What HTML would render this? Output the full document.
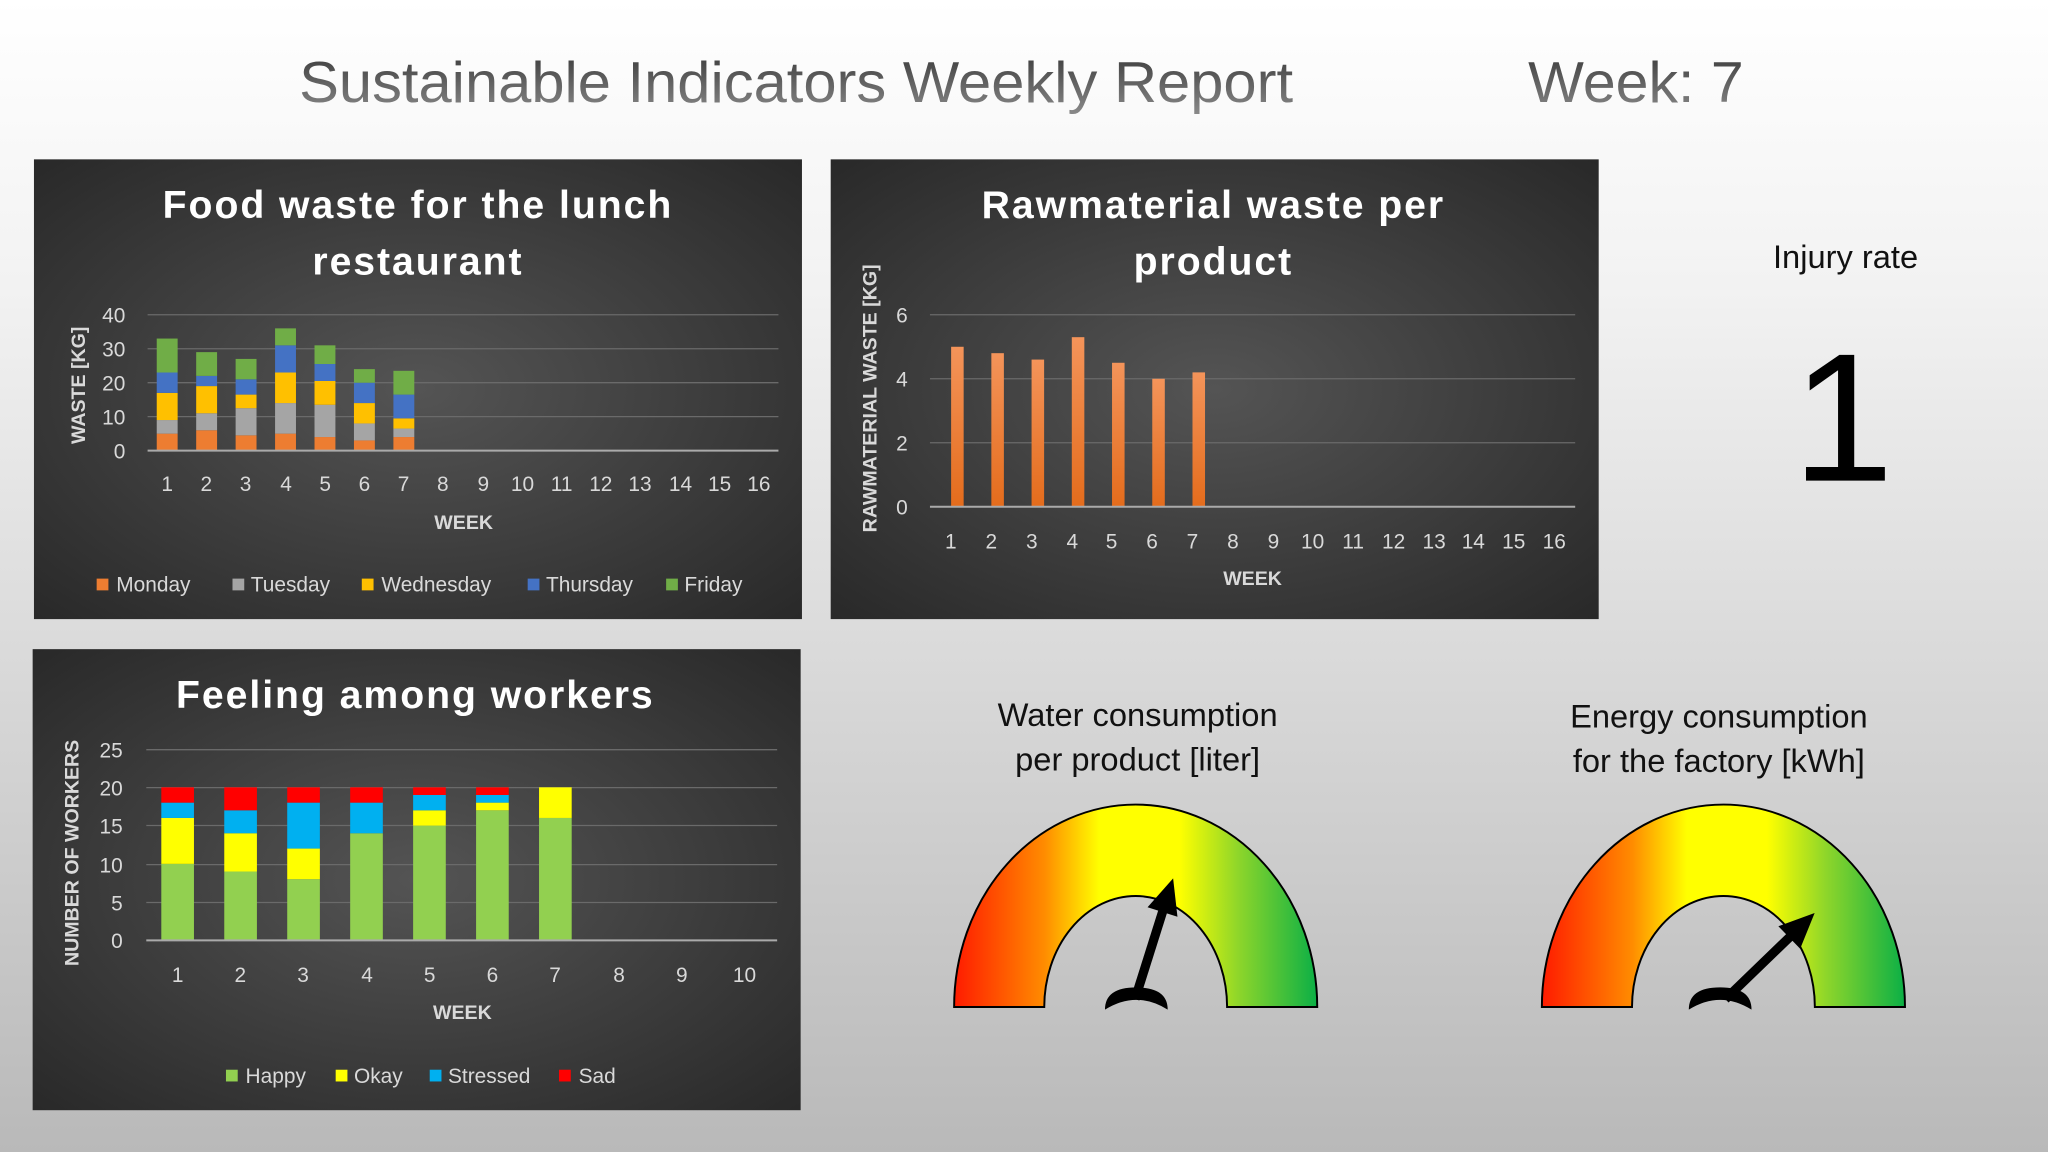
<!DOCTYPE html>
<html><head><meta charset="utf-8"><style>
html,body{margin:0;padding:0;width:2048px;height:1152px;overflow:hidden}
svg{display:block}
text{font-family:"Liberation Sans",sans-serif}
</style></head><body>
<svg id="s" width="2048" height="1152" viewBox="0 0 1568 882" xmlns="http://www.w3.org/2000/svg">
<defs>
<linearGradient id="bg" x1="0" y1="0" x2="0" y2="1"><stop offset="0" stop-color="#ffffff"/><stop offset="0.25" stop-color="#f2f2f2"/><stop offset="1" stop-color="#b9b9b9"/></linearGradient>
<radialGradient id="pn" cx="0.5" cy="0.5" r="0.75"><stop offset="0" stop-color="#545454"/><stop offset="1" stop-color="#262626"/></radialGradient>
<linearGradient id="tt" x1="0" y1="0" x2="0" y2="1"><stop offset="0" stop-color="#3a3a3a"/><stop offset="1" stop-color="#8a8a8a"/></linearGradient>
<linearGradient id="or" x1="0" y1="0" x2="0" y2="1"><stop offset="0" stop-color="#f4945a"/><stop offset="1" stop-color="#e46c1c"/></linearGradient>
<linearGradient id="g1" gradientUnits="userSpaceOnUse" x1="730" y1="0" x2="1009" y2="0"><stop offset="0" stop-color="#ff1a00"/><stop offset="0.25" stop-color="#ff8c00"/><stop offset="0.4" stop-color="#ffff00"/><stop offset="0.62" stop-color="#ffff00"/><stop offset="0.78" stop-color="#8fd62a"/><stop offset="1" stop-color="#0aaf46"/></linearGradient>
<linearGradient id="g2" gradientUnits="userSpaceOnUse" x1="1180" y1="0" x2="1459" y2="0"><stop offset="0" stop-color="#ff1a00"/><stop offset="0.25" stop-color="#ff8c00"/><stop offset="0.4" stop-color="#ffff00"/><stop offset="0.62" stop-color="#ffff00"/><stop offset="0.78" stop-color="#8fd62a"/><stop offset="1" stop-color="#0aaf46"/></linearGradient>
</defs>
<rect width="1568" height="882" fill="url(#bg)"/>
<text x="229" y="78" font-size="44" fill="url(#tt)" textLength="761" lengthAdjust="spacingAndGlyphs">Sustainable Indicators Weekly Report</text>
<text x="1170" y="78" font-size="44" fill="url(#tt)" textLength="165" lengthAdjust="spacingAndGlyphs">Week: 7</text>

<!-- Panel 1 -->
<rect x="26" y="122" width="588" height="352" fill="url(#pn)"/>
<g fill="#fff" font-weight="bold" font-size="30" text-anchor="middle" letter-spacing="1.5">
<text x="320" y="167">Food waste for the lunch</text><text x="320" y="210">restaurant</text></g>
<g stroke="#6a6a6a" stroke-width="1"><line x1="113" y1="241" x2="596" y2="241"/><line x1="113" y1="267" x2="596" y2="267"/><line x1="113" y1="293" x2="596" y2="293"/><line x1="113" y1="319" x2="596" y2="319"/></g>
<g id="b1"></g>
<line x1="113" y1="345" x2="596" y2="345" stroke="#aaa" stroke-width="1.5"/>
<g fill="#d9d9d9" font-size="16" text-anchor="end"><text x="96" y="247">40</text><text x="96" y="273">30</text><text x="96" y="299">20</text><text x="96" y="325">10</text><text x="96" y="351">0</text></g>
<text transform="translate(65,295) rotate(-90)" fill="#d9d9d9" font-size="15" font-weight="bold" text-anchor="middle">WASTE [KG]</text>
<g fill="#d9d9d9" font-size="16" text-anchor="middle"><text x="128" y="376">1</text><text x="158" y="376">2</text><text x="188" y="376">3</text><text x="219" y="376">4</text><text x="249" y="376">5</text><text x="279" y="376">6</text><text x="309" y="376">7</text><text x="339" y="376">8</text><text x="370" y="376">9</text><text x="400" y="376">10</text><text x="430" y="376">11</text><text x="460" y="376">12</text><text x="490" y="376">13</text><text x="521" y="376">14</text><text x="551" y="376">15</text><text x="581" y="376">16</text></g>
<text x="355" y="405" fill="#d9d9d9" font-size="15" font-weight="bold" text-anchor="middle">WEEK</text>
<g font-size="16" fill="#d9d9d9">
<rect x="74" y="443" width="9" height="9" fill="#ed7d31"/><text x="89" y="453">Monday</text>
<rect x="178" y="443" width="9" height="9" fill="#a5a5a5"/><text x="192" y="453">Tuesday</text>
<rect x="277" y="443" width="9" height="9" fill="#ffc000"/><text x="292" y="453">Wednesday</text>
<rect x="404" y="443" width="9" height="9" fill="#4472c4"/><text x="418" y="453">Thursday</text>
<rect x="510" y="443" width="9" height="9" fill="#70ad47"/><text x="524" y="453">Friday</text></g>

<!-- Panel 2 -->
<rect x="636" y="122" width="588" height="352" fill="url(#pn)"/>
<g fill="#fff" font-weight="bold" font-size="30" text-anchor="middle" letter-spacing="1.5">
<text x="929" y="167">Rawmaterial waste per</text><text x="929" y="210">product</text></g>
<g stroke="#6a6a6a" stroke-width="1"><line x1="712" y1="241" x2="1206" y2="241"/><line x1="712" y1="290" x2="1206" y2="290"/><line x1="712" y1="339" x2="1206" y2="339"/></g>
<g id="b2"></g>
<line x1="712" y1="388" x2="1206" y2="388" stroke="#aaa" stroke-width="1.5"/>
<g fill="#d9d9d9" font-size="16" text-anchor="end"><text x="695" y="247">6</text><text x="695" y="296">4</text><text x="695" y="345">2</text><text x="695" y="394">0</text></g>
<text transform="translate(671,305) rotate(-90)" fill="#d9d9d9" font-size="15" font-weight="bold" text-anchor="middle">RAWMATERIAL WASTE [KG]</text>
<g fill="#d9d9d9" font-size="16" text-anchor="middle"><text x="728" y="420">1</text><text x="759" y="420">2</text><text x="790" y="420">3</text><text x="821" y="420">4</text><text x="851" y="420">5</text><text x="882" y="420">6</text><text x="913" y="420">7</text><text x="944" y="420">8</text><text x="975" y="420">9</text><text x="1005" y="420">10</text><text x="1036" y="420">11</text><text x="1067" y="420">12</text><text x="1098" y="420">13</text><text x="1128" y="420">14</text><text x="1159" y="420">15</text><text x="1190" y="420">16</text></g>
<text x="959" y="448" fill="#d9d9d9" font-size="15" font-weight="bold" text-anchor="middle">WEEK</text>

<!-- Panel 3 -->
<rect x="25" y="497" width="588" height="353" fill="url(#pn)"/>
<text x="318" y="542" fill="#fff" font-weight="bold" font-size="30" text-anchor="middle" letter-spacing="1.5">Feeling among workers</text>
<g stroke="#6a6a6a" stroke-width="1"><line x1="112" y1="574" x2="595" y2="574"/><line x1="112" y1="603" x2="595" y2="603"/><line x1="112" y1="632" x2="595" y2="632"/><line x1="112" y1="662" x2="595" y2="662"/><line x1="112" y1="691" x2="595" y2="691"/></g>
<g id="b3"></g>
<line x1="112" y1="720" x2="595" y2="720" stroke="#aaa" stroke-width="1.5"/>
<g fill="#d9d9d9" font-size="16" text-anchor="end"><text x="94" y="580">25</text><text x="94" y="609">20</text><text x="94" y="638">15</text><text x="94" y="668">10</text><text x="94" y="697">5</text><text x="94" y="726">0</text></g>
<text transform="translate(60,653) rotate(-90)" fill="#d9d9d9" font-size="15" font-weight="bold" text-anchor="middle">NUMBER OF WORKERS</text>
<g fill="#d9d9d9" font-size="16" text-anchor="middle"><text x="136" y="752">1</text><text x="184" y="752">2</text><text x="232" y="752">3</text><text x="281" y="752">4</text><text x="329" y="752">5</text><text x="377" y="752">6</text><text x="425" y="752">7</text><text x="474" y="752">8</text><text x="522" y="752">9</text><text x="570" y="752">10</text></g>
<text x="354" y="780" fill="#d9d9d9" font-size="15" font-weight="bold" text-anchor="middle">WEEK</text>
<g font-size="16" fill="#d9d9d9">
<rect x="173" y="819" width="9" height="9" fill="#92d050"/><text x="188" y="829">Happy</text>
<rect x="257" y="819" width="9" height="9" fill="#ffff00"/><text x="271" y="829">Okay</text>
<rect x="329" y="819" width="9" height="9" fill="#00b0f0"/><text x="343" y="829">Stressed</text>
<rect x="428" y="819" width="9" height="9" fill="#ff0000"/><text x="443" y="829">Sad</text></g>

<!-- Right side -->
<text x="1413" y="205" font-size="25" text-anchor="middle" fill="#111">Injury rate</text>
<text x="1411" y="368" font-size="140" text-anchor="middle" fill="#000">1</text>
<g font-size="25" text-anchor="middle" fill="#111">
<text x="871" y="556">Water consumption</text><text x="871" y="590">per product [liter]</text>
<text x="1316" y="557">Energy consumption</text><text x="1316" y="591">for the factory [kWh]</text></g>
<path d="M730.5,771 A139,155 0 0 1 1008.5,771 L939.5,771 A70,85 0 0 0 799.5,771 Z" fill="url(#g1)" stroke="#000" stroke-width="1.5"/>
<path d="M1180.5,771 A139,155 0 0 1 1458.5,771 L1389.5,771 A70,85 0 0 0 1249.5,771 Z" fill="url(#g2)" stroke="#000" stroke-width="1.5"/>
<g transform="translate(869,765) rotate(17.5)"><rect x="-3.5" y="-72" width="7" height="72"/><path d="M-12,-70 L12,-70 L0,-97 Z"/></g>
<path d="M846,773 Q846,756 870,756 Q894,756 894,773 Q870,758 846,773 Z"/>
<g transform="translate(1321,765) rotate(46)"><rect x="-3.5" y="-70" width="7" height="70"/><path d="M-12,-68 L12,-68 L0,-95 Z"/></g>
<path d="M1293,773 Q1293,756 1317,756 Q1341,756 1341,773 Q1317,758 1293,773 Z"/>
</svg>
<script>
var NS="http://www.w3.org/2000/svg";
function r(g,x,y,w,h,f){var e=document.createElementNS(NS,"rect");e.setAttribute("x",x);e.setAttribute("y",y);e.setAttribute("width",w);e.setAttribute("height",h);e.setAttribute("fill",f);document.getElementById(g).appendChild(e);}
var d1=[[5,4,8,6,10],[6,5,8,3,7],[4.5,8,4,4.5,6],[5,9,9,8,5],[4,9.5,7,5,5.5],[3,5,6,6,4],[4,2.5,3,7,7]];
var c1=["#ed7d31","#a5a5a5","#ffc000","#4472c4","#70ad47"];
d1.forEach(function(w,i){var cx=128+30.2*i,s=0;w.forEach(function(v,j){var y0=345-2.6*s,h=2.6*v;r("b1",cx-8,y0-h,16,h,c1[j]);s+=v;});});
[5,4.8,4.6,5.3,4.5,4.0,4.2].forEach(function(v,i){var cx=733+30.8*i,h=v*24.5;r("b2",cx-4.8,388-h,9.6,h,"url(#or)");});
var d3=[[10,6,2,2],[9,5,3,3],[8,4,6,2],[14,0,4,2],[15,2,2,1],[17,1,1,1],[16,4,0,0]];
var c3=["#92d050","#ffff00","#00b0f0","#ff0000"];
d3.forEach(function(w,i){var cx=136+48.2*i,s=0;w.forEach(function(v,j){var y0=720-5.86*s,h=5.86*v;if(v>0)r("b3",cx-12.5,y0-h,25,h,c3[j]);s+=v;});});
</script>
</body></html>
